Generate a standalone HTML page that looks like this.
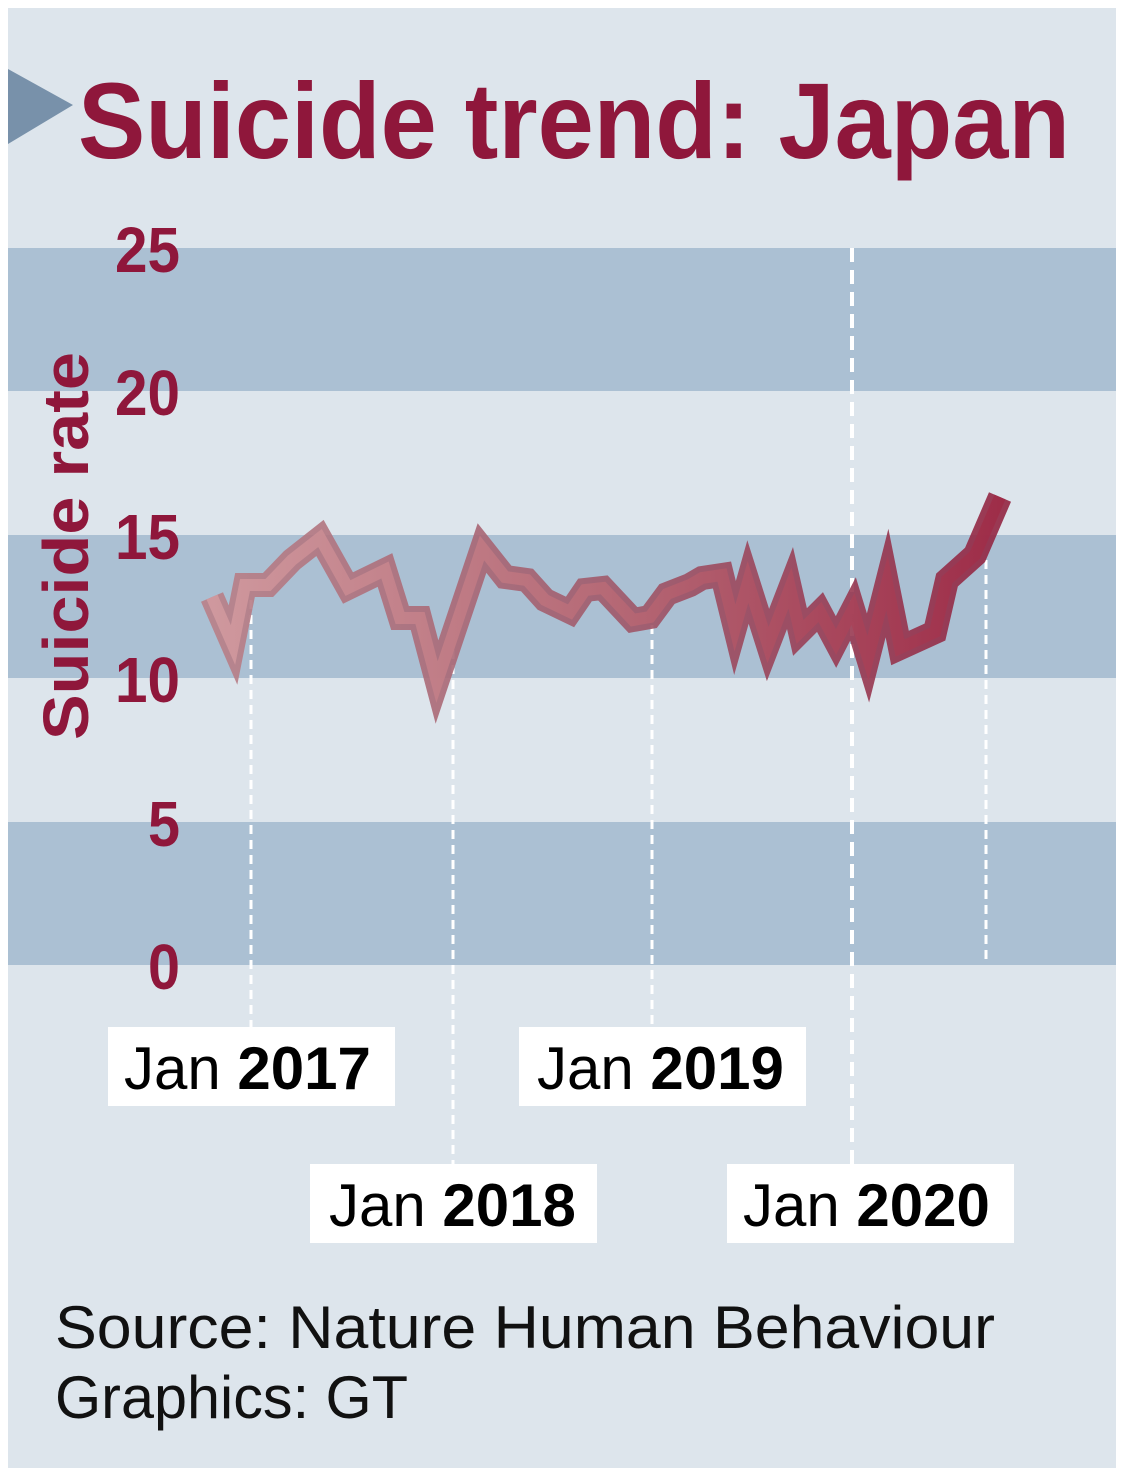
<!DOCTYPE html>
<html><head><meta charset="utf-8"><style>
html,body{margin:0;padding:0;background:#fff;}
svg{display:block;}
</style></head><body>
<svg width="1126" height="1478" viewBox="0 0 1126 1478" xmlns="http://www.w3.org/2000/svg">
<defs>
<linearGradient id="gi" x1="205" y1="0" x2="1010" y2="0" gradientUnits="userSpaceOnUse">
<stop offset="0" stop-color="#d29ba0"/><stop offset="0.5" stop-color="#b86a76"/><stop offset="1" stop-color="#9e2a46"/>
</linearGradient>
<linearGradient id="go" x1="205" y1="0" x2="1010" y2="0" gradientUnits="userSpaceOnUse">
<stop offset="0" stop-color="#b98088"/><stop offset="0.5" stop-color="#a0596a"/><stop offset="1" stop-color="#922441"/>
</linearGradient>
</defs>
<rect x="8" y="8" width="1108" height="1460" fill="#dde5ec"/>
<rect x="8" y="248" width="1108" height="143" fill="#abc0d3"/>
<rect x="8" y="535" width="1108" height="143" fill="#abc0d3"/>
<rect x="8" y="822" width="1108" height="143" fill="#abc0d3"/>
<polygon points="8,69 73,105 8,144" fill="#7891aa"/>
<text x="78" y="158" font-family="Liberation Sans, sans-serif" font-weight="bold" font-size="108" fill="#8f173b" textLength="992" lengthAdjust="spacingAndGlyphs">Suicide trend: Japan</text>
<g font-family="Liberation Sans, sans-serif" font-weight="bold" font-size="64" fill="#8f173b">
<text x="115" y="272" textLength="65" lengthAdjust="spacingAndGlyphs">25</text>
<text x="115" y="415" textLength="65" lengthAdjust="spacingAndGlyphs">20</text>
<text x="115" y="559" textLength="65" lengthAdjust="spacingAndGlyphs">15</text>
<text x="115" y="702" textLength="65" lengthAdjust="spacingAndGlyphs">10</text>
<text x="148" y="846" textLength="32" lengthAdjust="spacingAndGlyphs">5</text>
<text x="148" y="989" textLength="32" lengthAdjust="spacingAndGlyphs">0</text>
<text transform="translate(88,740) rotate(-90)" font-size="64" textLength="388" lengthAdjust="spacingAndGlyphs">Suicide rate</text>
</g>
<g stroke="#fff" stroke-width="3" stroke-dasharray="9,6" fill="none">
<line x1="251" y1="600" x2="251" y2="1027"/>
<line x1="453" y1="650" x2="453" y2="1164"/>
<line x1="652" y1="625" x2="652" y2="1027"/>
<line x1="986" y1="560" x2="986" y2="965"/>
<line x1="852" y1="248" x2="852" y2="1164" stroke-width="4" stroke-dasharray="14,8"/>
</g>
<g fill="none" stroke-linejoin="miter" stroke-miterlimit="6">
<polyline id="ln" stroke="url(#go)" stroke-width="24" opacity="0.9" points="212,597 233,645 245,585 268,585 292,560 320,538 348,588 385,570 400,618 420,618 437,682 482,548 505,577 527,580 545,600 570,612 585,590 603,588 633,620 650,617 667,594 690,585 702,578 722,575 735,628 748,582 768,645 790,588 800,632 820,612 836,642 853,609 868,658 887,583 900,648 935,632 947,580 975,555 1000,497"/>
<polyline stroke="url(#gi)" stroke-width="12" opacity="0.9" points="212,597 233,645 245,585 268,585 292,560 320,538 348,588 385,570 400,618 420,618 437,682 482,548 505,577 527,580 545,600 570,612 585,590 603,588 633,620 650,617 667,594 690,585 702,578 722,575 735,628 748,582 768,645 790,588 800,632 820,612 836,642 853,609 868,658 887,583 900,648 935,632 947,580 975,555 1000,497"/>
</g>
<g fill="#fff">
<rect x="108" y="1027" width="287" height="79"/>
<rect x="519" y="1027" width="287" height="79"/>
<rect x="310" y="1164" width="287" height="79"/>
<rect x="727" y="1164" width="287" height="79"/>
</g>
<g font-family="Liberation Sans, sans-serif" font-size="60" fill="#000">
<text x="124" y="1089"><tspan>Jan </tspan><tspan font-weight="bold">2017</tspan></text>
<text x="537" y="1089"><tspan>Jan </tspan><tspan font-weight="bold">2019</tspan></text>
<text x="329" y="1226"><tspan>Jan </tspan><tspan font-weight="bold">2018</tspan></text>
<text x="743" y="1226"><tspan>Jan </tspan><tspan font-weight="bold">2020</tspan></text>
<text x="55" y="1348" fill="#111" textLength="940" lengthAdjust="spacingAndGlyphs">Source: Nature Human Behaviour</text>
<text x="55" y="1418" fill="#111" textLength="353" lengthAdjust="spacingAndGlyphs">Graphics: GT</text>
</g>
</svg>
</body></html>
